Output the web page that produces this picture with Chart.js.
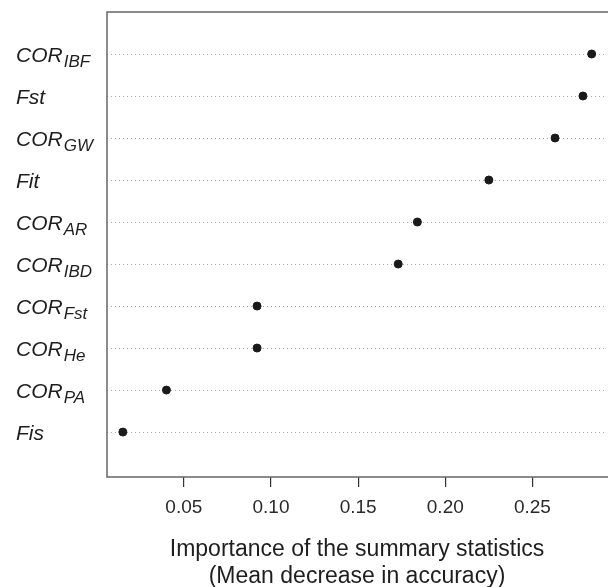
<!DOCTYPE html>
<html>
<head>
<meta charset="utf-8">
<script src="https://cdn.jsdelivr.net/npm/chart.js@4"></script>
<style>
  html, body { margin: 0; padding: 0; background: #fff; overflow: hidden; }
  #wrap { width: 612px; height: 587px; position: relative; }
</style>
</head>
<body>
<div id="wrap"><canvas id="dotplot"></canvas></div>
<script>
// summary statistics, top row first
var statNames = ['COR', 'Fst', 'COR', 'Fit', 'COR', 'COR', 'COR', 'COR', 'COR', 'Fis'];
var statSubs = ['IBF', '', 'GW', '', 'AR', 'IBD', 'Fst', 'He', 'PA', ''];
var importance = [0.284, 0.279, 0.263, 0.225, 0.184, 0.173, 0.092, 0.092, 0.040, 0.015];
var xTicks = [0.05, 0.10, 0.15, 0.20, 0.25];
var xTitle = ['Importance of the summary statistics', '(Mean decrease in accuracy)'];

var FONT = '"Liberation Sans", Arial, sans-serif';
var n = importance.length;

var points = importance.map(function (v, i) {
    return { x: v, y: n - i };
});

// left, top and bottom frame lines (right side falls off the page)
var framePlugin = {
    id: 'frame',
    afterDraw: function (chart) {
        var a = chart.chartArea;
        var ctx = chart.ctx;
        ctx.save();
        ctx.strokeStyle = '#666';
        ctx.lineWidth = 1.5;
        ctx.beginPath();
        ctx.moveTo(a.right + 10, a.top);
        ctx.lineTo(a.left, a.top);
        ctx.lineTo(a.left, a.bottom);
        ctx.lineTo(a.right + 10, a.bottom);
        ctx.stroke();
        ctx.restore();
    }
};

// italic row labels with subscripts
var rowLabelPlugin = {
    id: 'rowLabels',
    afterDraw: function (chart) {
        var ctx = chart.ctx;
        var yScale = chart.scales.y;
        ctx.save();
        ctx.fillStyle = '#1e1e1e';
        ctx.textBaseline = 'alphabetic';
        ctx.textAlign = 'left';
        for (var i = 0; i < n; i++) {
            var y = yScale.getPixelForValue(n - i) + 7.5;
            var x = 16;
            ctx.font = 'italic 21px ' + FONT;
            ctx.fillText(statNames[i], x, y);
            if (statSubs[i]) {
                var w = ctx.measureText(statNames[i]).width;
                ctx.font = 'italic 17px ' + FONT;
                ctx.fillText(statSubs[i], x + w + 1, y + 5);
            }
        }
        ctx.restore();
    }
};

new Chart(document.getElementById('dotplot'), {
    type: 'scatter',
    data: {
        datasets: [{
            data: points,
            backgroundColor: '#1a1a1a',
            borderColor: '#1a1a1a',
            pointRadius: 4,
            pointHoverRadius: 4,
            showLine: false
        }]
    },
    options: {
        responsive: true,
        maintainAspectRatio: false,
        animation: false,
        layout: { padding: { top: 12, right: 0, bottom: 0, left: 0 } },
        plugins: {
            legend: { display: false },
            tooltip: { enabled: false }
        },
        scales: {
            x: {
                type: 'linear',
                min: 0.0059,
                max: 0.2928,
                afterBuildTicks: function (scale) {
                    scale.ticks = xTicks.map(function (v) { return { value: v }; });
                },
                afterFit: function (scale) {
                    scale.height = 110;
                },
                border: { display: false },
                grid: {
                    drawOnChartArea: false,
                    color: '#333',
                    lineWidth: 1.2,
                    tickLength: 10
                },
                ticks: {
                    padding: 9,
                    color: '#2a2a2a',
                    font: { family: FONT, size: 19 },
                    callback: function (value) {
                        return Number(value).toFixed(2);
                    }
                },
                title: {
                    display: true,
                    text: xTitle,
                    color: '#1e1e1e',
                    font: { family: FONT, size: 23, lineHeight: 1.17 },
                    padding: { top: 0, bottom: -3 }
                }
            },
            y: {
                type: 'linear',
                min: -0.07,
                max: n + 1,
                afterBuildTicks: function (scale) {
                    var t = [];
                    for (var k = 1; k <= n; k++) t.push({ value: k });
                    scale.ticks = t;
                },
                afterFit: function (scale) {
                    scale.width = 107;
                },
                border: { display: false, dash: [1, 3] },
                grid: {
                    color: '#aaaaaa',
                    lineWidth: 1,
                    drawTicks: false
                },
                ticks: { display: false }
            }
        }
    },
    plugins: [framePlugin, rowLabelPlugin]
});
</script>
</body>
</html>
